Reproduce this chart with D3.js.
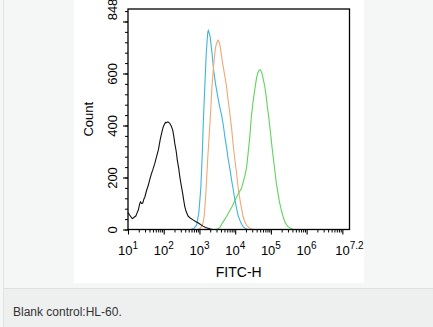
<!DOCTYPE html>
<html><head><meta charset="utf-8">
<script src="https://cdn.jsdelivr.net/npm/d3@7"></script>
<style>
html,body{margin:0;padding:0;background:#f5f6f6;overflow:hidden;}
svg{display:block;font-family:"Liberation Sans",Arial,sans-serif;}
</style></head><body>
<svg id="chart" width="433" height="327"></svg>
<script>
// FITC-H histograms: decade exponent (log10 of FITC-H) and event count
const blankExp   = [1.00,1.05,1.10,1.13,1.18,1.22,1.26,1.29,1.32,1.35,1.38,1.41,1.44,1.47,1.52,1.57,1.62,1.66,1.70,1.75,1.80,1.85,1.90,1.94,1.98,2.01,2.05,2.08,2.12,2.17,2.21,2.25,2.28,2.31,2.35,2.38,2.42,2.45,2.49,2.53,2.56,2.59,2.63,2.68,2.75,2.82,2.89,2.96,3.03,3.10,3.17,3.24,3.31,3.38];
const blankCount = [65,55,45,42,48,52,66,75,95,107,100,101,115,124,150,171,198,216,232,254,280,306,345,370,392,402,412,411,414,408,398,383,360,331,300,267,235,203,170,139,112,88,68,52,43,37,31,26,19,13,8,5,2,0];

const cyanExp    = [2.75,2.85,2.92,2.98,3.01,3.04,3.08,3.11,3.15,3.19,3.23,3.25,3.28,3.30,3.35,3.40,3.45,3.52,3.57,3.62,3.67,3.71,3.76,3.80,3.85,3.90,3.95,3.99,4.04,4.08,4.13,4.18,4.23,4.27,4.36];
const cyanCount  = [0,5,17,62,110,165,293,421,549,678,755,767,752,741,680,610,560,505,470,440,400,357,315,275,235,190,150,115,80,55,36,20,10,5,0];

const orangeExp  = [2.96,3.02,3.06,3.10,3.13,3.16,3.19,3.24,3.30,3.35,3.41,3.45,3.48,3.52,3.55,3.58,3.62,3.66,3.71,3.76,3.80,3.85,3.90,3.94,3.99,4.04,4.08,4.13,4.18,4.22,4.27,4.32,4.39,4.46,4.55];
const orangeCount= [0,4,11,25,49,100,165,293,421,549,652,700,716,729,722,705,665,630,590,549,500,447,390,331,270,216,165,118,80,50,30,16,7,2,0];

const greenExp   = [3.45,3.52,3.57,3.62,3.69,3.76,3.83,3.90,3.97,4.04,4.11,4.18,4.23,4.27,4.32,4.36,4.41,4.45,4.50,4.55,4.60,4.64,4.67,4.70,4.73,4.75,4.79,4.83,4.87,4.90,4.94,4.97,5.00,5.03,5.07,5.11,5.15,5.20,5.24,5.29,5.34,5.39,5.44,5.48,5.55,5.62];
const greenCount = [0,3,8,20,35,50,68,85,105,125,143,160,185,205,240,290,357,430,490,540,585,605,612,615,608,600,575,549,510,472,432,395,357,318,272,228,180,139,105,75,50,30,18,11,5,0];

const yTickValues = [0,200,400,600,800];
const yMinorValues = d3.range(0, 848, 40);
const xDecades = [1,2,3,4,5,6,7];
const xEndExp = 7.2;
const yMax = 848;

const seriesColors = {blank:"#111111", cyan:"#3fb4dc", orange:"#f2a774", green:"#5fd45f"};

const svg = d3.select("#chart");

// page furniture
svg.append("rect").attr("x",0).attr("y",0).attr("width",433).attr("height",327).attr("fill","#f5f6f6");
svg.append("line").attr("x1",3.5).attr("x2",3.5).attr("y1",0).attr("y2",327).attr("stroke","#e2e4e4");
svg.append("rect").attr("x",74).attr("y",0).attr("width",290).attr("height",283).attr("fill","#ffffff");
svg.append("rect").attr("x",4).attr("y",288).attr("width",429).attr("height",39).attr("fill","#eef0f0");
svg.append("line").attr("x1",4).attr("x2",433).attr("y1",288.5).attr("y2",288.5).attr("stroke","#dcdfdf");
svg.append("text").attr("x",13).attr("y",316).attr("font-size",12).attr("fill","#333")
  .text("Blank control:HL-60.");

const m = {left:128, right:349.5, top:9, bottom:229.5};
const x = d3.scaleLog().domain([10, Math.pow(10, xEndExp)]).range([m.left, m.right]);
const y = d3.scaleLinear().domain([0, yMax]).range([m.bottom, m.top]);

// histogram traces
const line = d3.line().x(d => x(Math.pow(10, d[0]))).y(d => y(d[1]));
const traces = [
  [blankExp, blankCount, seriesColors.blank],
  [cyanExp, cyanCount, seriesColors.cyan],
  [orangeExp, orangeCount, seriesColors.orange],
  [greenExp, greenCount, seriesColors.green]
];
const plot = svg.append("g");
traces.slice(1).concat([traces[0]]).forEach(([ex, ct, col]) => {
  plot.append("path").datum(ex.map((e,i) => [e, ct[i]]))
    .attr("d", line).attr("fill","none").attr("stroke",col).attr("stroke-width",1.1)
    .attr("stroke-linejoin","round");
});

// frame
svg.append("rect").attr("x",m.left).attr("y",m.top).attr("width",m.right-m.left).attr("height",m.bottom-m.top)
  .attr("fill","none").attr("stroke","#000").attr("stroke-width",1.3);

// y axis
const yMinorAxis = d3.axisLeft(y).tickValues(yMinorValues).tickSize(3).tickFormat("");
svg.append("g").attr("transform",`translate(${m.left},0)`).call(yMinorAxis)
  .call(g => g.select(".domain").remove())
  .selectAll("line").attr("stroke","#000");
const yAxis = d3.axisLeft(y).tickValues(yTickValues.concat([yMax])).tickSize(5)
  .tickFormat(d => d === 800 ? "" : d);
const gy = svg.append("g").attr("transform",`translate(${m.left},0)`).call(yAxis);
gy.select(".domain").remove();
gy.selectAll("line").attr("stroke","#000").attr("stroke-width",1.1)
  .filter(d => d === yMax).remove();
gy.selectAll("text").attr("transform","rotate(-90)").attr("x",0).attr("y",-11.3).attr("dy",0)
  .attr("text-anchor","middle").attr("font-size",13).attr("fill","#000")
  .attr("font-family","'Liberation Sans',Arial,sans-serif");

// x axis
const xMinorValues = [];
xDecades.forEach(dc => { for (let k = 2; k <= 9; k++) { const v = k*Math.pow(10,dc); if (v < Math.pow(10,xEndExp)) xMinorValues.push(v); } });
const xMinorAxis = d3.axisBottom(x).tickValues(xMinorValues).tickSize(3).tickFormat("");
svg.append("g").attr("transform",`translate(0,${m.bottom})`).call(xMinorAxis)
  .call(g => g.select(".domain").remove())
  .selectAll("line").attr("stroke","#000");
const xLabelExps = xDecades.slice(0,6).concat([xEndExp]);
const xAxis = d3.axisBottom(x).tickValues(xDecades.map(d => Math.pow(10,d))).tickSize(5).tickFormat("");
const gx = svg.append("g").attr("transform",`translate(0,${m.bottom})`).call(xAxis);
gx.select(".domain").remove();
gx.selectAll("line").attr("stroke","#000").attr("stroke-width",1.1);

const xl = svg.append("g").selectAll("text").data(xLabelExps).join("text")
  .attr("x", d => x(Math.pow(10,d))).attr("y",255).attr("text-anchor","middle")
  .attr("font-size",13).attr("fill","#000");
xl.append("tspan").text("10");
xl.append("tspan").attr("dy",-6).attr("font-size",10).text(d => d);

// axis titles
svg.append("text").attr("x",(m.left+m.right)/2).attr("y",276.7).attr("text-anchor","middle")
  .attr("font-size",14).attr("fill","#000").text("FITC-H");
svg.append("text").attr("transform",`translate(93.3,${(m.top+m.bottom)/2}) rotate(-90)`)
  .attr("text-anchor","middle").attr("font-size",13).attr("fill","#000").text("Count");
</script></body></html>
